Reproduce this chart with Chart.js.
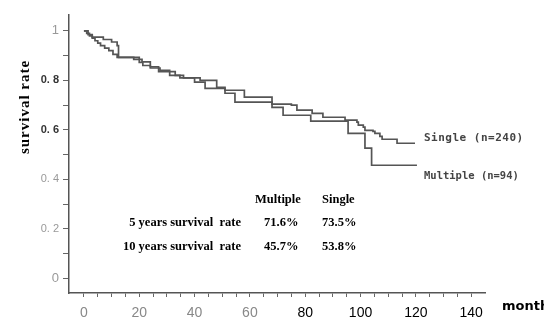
<!DOCTYPE html>
<html>
<head>
<meta charset="utf-8">
<script src="https://cdn.jsdelivr.net/npm/chart.js@4/dist/chart.umd.min.js"></script>
<style>
  html, body { margin: 0; padding: 0; background: #fff; }
  #wrap { width: 544px; height: 325px; }
</style>
</head>
<body>
<div id="wrap"><canvas id="survChart" width="544" height="325"></canvas></div>
<script>
// Kaplan-Meier steps (months, survival)
const singleMonths = [0, 1.5, 3, 7, 10, 12, 12.5, 18, 21, 24, 27, 33, 36, 42, 48, 51, 58, 68, 75, 77, 82.5, 86.4, 94.4, 98.7, 99.2, 101, 101.6, 104.5, 105.2, 107, 107.8, 113.2, 119.7];
const singleSurv = [1, 0.985, 0.975, 0.965, 0.955, 0.94, 0.893, 0.885, 0.875, 0.855, 0.835, 0.82, 0.81, 0.80, 0.772, 0.76, 0.732, 0.704, 0.70, 0.68, 0.667, 0.651, 0.639, 0.631, 0.619, 0.611, 0.598, 0.594, 0.586, 0.574, 0.562, 0.546, 0.546];

const multipleMonths = [0, 1, 2, 3, 4, 5, 6, 7.5, 9, 10.5, 12, 20, 21.3, 24, 27.5, 31, 34.7, 40, 43.8, 51, 54.6, 68, 72, 82, 95.5, 101.6, 104, 120.4];
const multipleSurv = [1, 0.99, 0.98, 0.97, 0.96, 0.95, 0.94, 0.93, 0.92, 0.905, 0.893, 0.873, 0.86, 0.85, 0.84, 0.82, 0.81, 0.793, 0.768, 0.748, 0.712, 0.691, 0.659, 0.635, 0.586, 0.526, 0.457, 0.457];

// axis ticks
const xTicks = [0, 5, 10, 15, 20, 25, 30, 35, 40, 45, 50, 55, 60, 65, 70, 75, 80, 85, 90, 95, 100, 105, 110, 115, 120, 125, 130, 135, 140];
const xLabels = [0, 20, 40, 60, 80, 100, 120, 140];
const yTicks = [0, 0.1, 0.2, 0.3, 0.4, 0.5, 0.6, 0.7, 0.8, 0.9, 1];
const yLabels = { 0: '0', 0.2: '0. 2', 0.4: '0. 4', 0.6: '0. 6', 0.8: '0. 8', 1: '1' };

// table in the plot
const tableHeads = ['Multiple', 'Single'];
const tableRows = ['5 years survival  rate', '10 years survival  rate'];
const tableMultiple = ['71.6%', '45.7%'];
const tableSingle = ['73.5%', '53.8%'];

const lineColor = '#555';
const serif = '"Liberation Serif", "Times New Roman", serif';
const sans = '"Liberation Sans", Arial, sans-serif';
const mono = '"DejaVu Sans Mono", monospace';

function toPoints(xs, ys) {
    return xs.map((x, i) => ({ x: x, y: ys[i] }));
}

// Draws the annotations, table and axis titles
const textPlugin = {
    id: 'texts',
    afterDraw(chart) {
        const ctx = chart.ctx;
        ctx.save();
        ctx.textBaseline = 'middle';

        // curve labels
        ctx.fillStyle = '#444';
        ctx.font = 'bold 11px ' + mono;
        ctx.letterSpacing = '0.5px';
        ctx.textAlign = 'left';
        ctx.fillText('Single (n=240)', 424, 138);
        ctx.letterSpacing = '0px';
        ctx.font = 'bold 10.5px ' + mono;
        ctx.fillText('Multiple (n=94)', 424, 176);

        // table
        ctx.fillStyle = '#000';
        ctx.font = 'bold 12.5px ' + serif;
        ctx.fillText(tableHeads[0], 255, 200);
        ctx.fillText(tableHeads[1], 322, 200);
        const rowY = [223, 247];
        tableRows.forEach((r, i) => {
            ctx.textAlign = 'right';
            ctx.fillText(r, 241, rowY[i]);
            ctx.textAlign = 'left';
            ctx.fillText(tableMultiple[i], 264, rowY[i]);
            ctx.fillText(tableSingle[i], 322, rowY[i]);
        });

        // x title (cut off at the edge like the original)
        ctx.font = 'bold 13px "DejaVu Sans", sans-serif';
        ctx.textAlign = 'left';
        ctx.fillText('month', 502, 307);

        // y title
        ctx.translate(25, 107);
        ctx.rotate(-Math.PI / 2);
        ctx.textAlign = 'center';
        ctx.font = 'bold 15px ' + serif;
        ctx.letterSpacing = '1px';
        ctx.fillText('survival rate', 0, 0);
        ctx.restore();
    }
};

const ctx = document.getElementById('survChart').getContext('2d');
new Chart(ctx, {
    type: 'line',
    data: {
        datasets: [{
            label: 'Single (n=240)',
            data: toPoints(singleMonths, singleSurv),
            borderColor: lineColor,
            borderWidth: 1.7,
            stepped: 'before',
            pointRadius: 0,
            fill: false
        }, {
            label: 'Multiple (n=94)',
            data: toPoints(multipleMonths, multipleSurv),
            borderColor: lineColor,
            borderWidth: 1.7,
            stepped: 'before',
            pointRadius: 0,
            fill: false
        }]
    },
    options: {
        responsive: false,
        animation: false,
        devicePixelRatio: 1,
        layout: { padding: { top: 15, right: 59, left: 0, bottom: 0 } },
        plugins: {
            legend: { display: false },
            tooltip: { enabled: false }
        },
        scales: {
            x: {
                type: 'linear',
                min: -5.4,
                max: 145,
                afterFit: s => { s.height = 32; },
                afterBuildTicks: s => { s.ticks = xTicks.map(v => ({ value: v })); },
                border: { display: true, color: '#555', width: 1.5 },
                grid: { display: true, drawOnChartArea: false, drawTicks: true, tickLength: 4, color: '#666' },
                ticks: {
                    padding: 8,
                    autoSkip: false,
                    maxRotation: 0,
                    font: { family: sans, size: 14 },
                    color: c => (c.tick && c.tick.value >= 80 ? '#000' : '#888'),
                    callback: v => (xLabels.includes(v) ? String(v) : '')
                }
            },
            y: {
                min: -0.059,
                max: 1.064,
                afterFit: s => { s.width = 69; },
                afterBuildTicks: s => { s.ticks = yTicks.map(v => ({ value: v })); },
                border: { display: true, color: '#555', width: 1.5 },
                grid: { display: true, drawOnChartArea: false, drawTicks: true, tickLength: 6, color: '#666' },
                ticks: {
                    padding: 4,
                    autoSkip: false,
                    font: c => {
                        const v = c.tick ? c.tick.value : 0;
                        if (v === 0 || v === 1) return { family: sans, size: 13 };
                        if (v === 0.8 || v === 0.6) return { family: sans, size: 11, weight: 'bold' };
                        return { family: sans, size: 11 };
                    },
                    color: c => {
                        const v = c.tick ? c.tick.value : 0;
                        return (v === 0.8 || v === 0.6) ? '#333' : '#999';
                    },
                    callback: v => (yLabels[v] !== undefined ? yLabels[v] : '')
                }
            }
        }
    },
    plugins: [textPlugin]
});
</script>
</body>
</html>
